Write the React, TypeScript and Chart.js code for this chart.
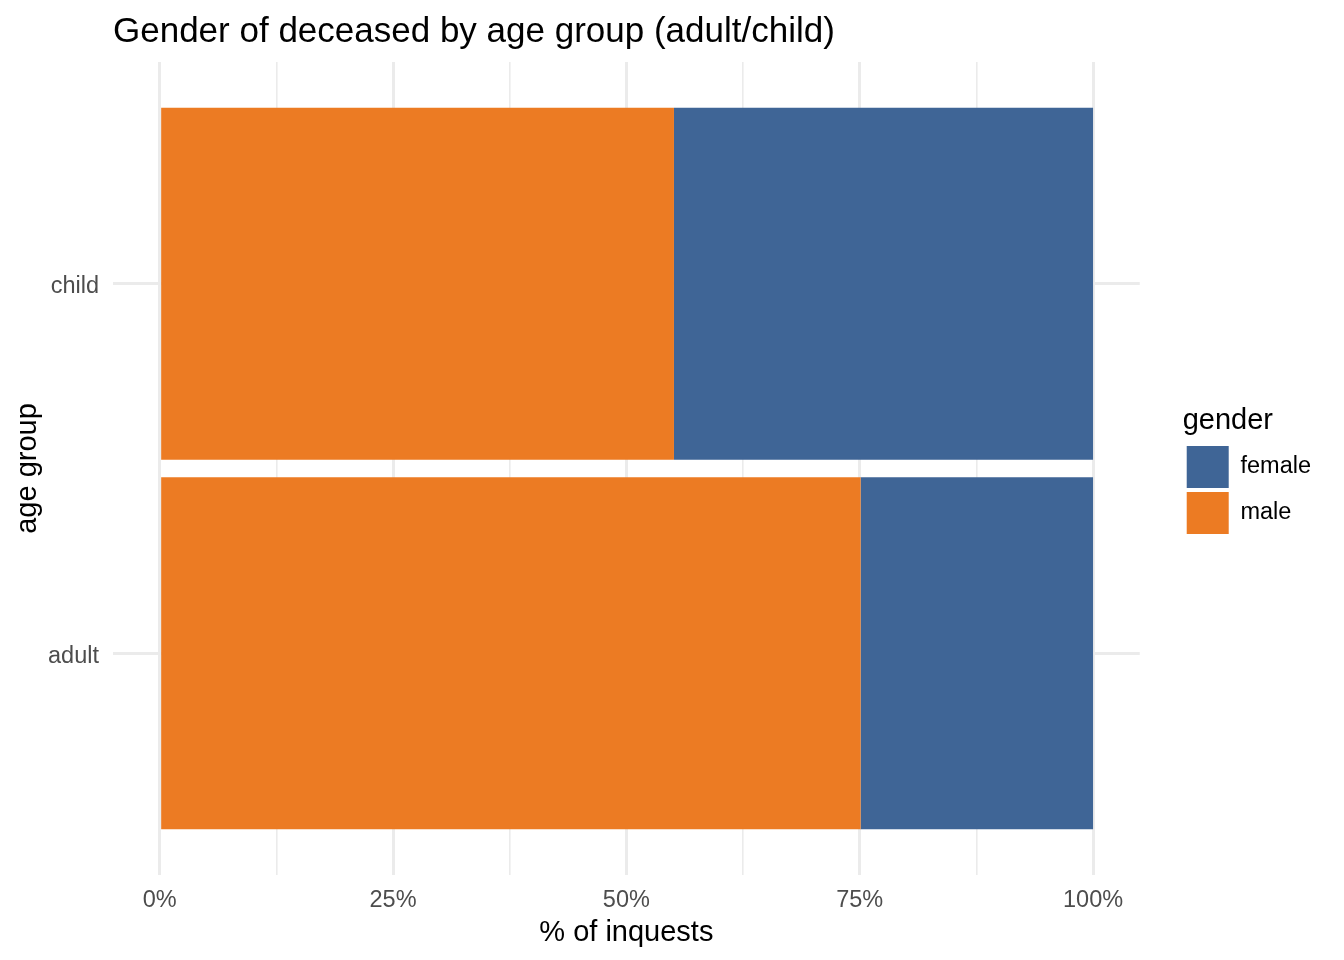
import { useEffect, useRef } from "react";
import Chart from "chart.js/auto";

const ageGroups = ["child", "adult"];
const malePct = [55.1, 75.1];
const femalePct = [44.9, 24.9];
const xTicks = [0, 12.5, 25, 37.5, 50, 62.5, 75, 87.5, 100];

const FONT = "'Liberation Sans', Arial, Helvetica, sans-serif";
const ORANGE = "#EC7B23";
const BLUE = "#3F6596";
const GRID = "#EBEBEB";
const TICK_COLOR = "#4D4D4D";

// groups sit on a linear axis (child on top) so the end padding can be 0.6 like ggplot
const yPos = (i: number) => ageGroups.length - i;

const GenderChart = () => {
  const canvasRef = useRef<HTMLCanvasElement | null>(null);

  useEffect(() => {
    if (!canvasRef.current) return;

    const chart = new Chart(canvasRef.current, {
      type: "bar",
      data: {
        datasets: [
          {
            label: "male",
            data: malePct.map((v, i) => ({ x: v, y: yPos(i) })),
            backgroundColor: ORANGE,
            borderWidth: 0,
            stack: "g",
            xAxisID: "x",
            yAxisID: "y",
            categoryPercentage: 1,
            barPercentage: 0.952,
          },
          {
            label: "female",
            data: femalePct.map((v, i) => ({ x: v, y: yPos(i) })),
            backgroundColor: BLUE,
            borderWidth: 0,
            stack: "g",
            xAxisID: "x",
            yAxisID: "y",
            categoryPercentage: 1,
            barPercentage: 0.952,
          },
        ],
      },
      options: {
        indexAxis: "y",
        animation: false,
        responsive: true,
        maintainAspectRatio: false,
        layout: { padding: { left: 0, top: 0, right: 23, bottom: 0 } },
        scales: {
          x: {
            type: "linear",
            min: -5,
            max: 105,
            stacked: true,
            afterBuildTicks: (axis: any) => {
              axis.ticks = xTicks.map((v) => ({ value: v }));
            },
            afterFit: (s: any) => {
              s.height = 85;
            },
            border: { display: false },
            grid: {
              color: GRID,
              drawTicks: false,
              lineWidth: (ctx: any) => (ctx.tick && ctx.tick.value % 25 === 0 ? 3 : 1.6),
            },
            ticks: {
              autoSkip: false,
              maxRotation: 0,
              padding: 11,
              color: TICK_COLOR,
              font: { family: FONT, size: 23.5 },
              callback: (v: any) => (Number(v) % 25 === 0 ? `${v}%` : ""),
            },
            title: {
              display: true,
              text: "% of inquests",
              color: "#000",
              font: { family: FONT, size: 29 },
              padding: { top: 0, bottom: 10 },
            },
          },
          y: {
            type: "linear",
            min: 0.4,
            max: 2.6,
            stacked: true,
            offset: false,
            afterBuildTicks: (axis: any) => {
              axis.ticks = ageGroups.map((_, i) => ({ value: yPos(i) }));
            },
            afterFit: (s: any) => {
              s.width = 113;
            },
            border: { display: false },
            grid: { color: GRID, lineWidth: 3, drawTicks: false, offset: false },
            ticks: {
              autoSkip: false,
              padding: 14,
              labelOffset: 3,
              color: TICK_COLOR,
              font: { family: FONT, size: 23.5 },
              callback: (v: any) => {
                const i = ageGroups.length - Number(v);
                return ageGroups[i] ?? "";
              },
            },
            title: {
              display: true,
              text: "age group",
              color: "#000",
              font: { family: FONT, size: 29 },
              padding: { top: 11, bottom: 0 },
            },
          },
          // empty axis that only keeps the gap between panel and legend
          gap: {
            type: "linear",
            position: "right",
            display: true,
            border: { display: false },
            grid: { display: false },
            ticks: { display: false },
            afterFit: (s: any) => {
              s.width = 43;
            },
          },
        },
        plugins: {
          title: {
            display: true,
            text: "Gender of deceased by age group (adult/child)",
            align: "start",
            fullSize: false,
            color: "#000",
            font: { family: FONT, size: 35, weight: "normal" },
            padding: { top: 11, bottom: 9 },
          },
          legend: {
            position: "right",
            align: "center",
            fullSize: false,
            reverse: true,
            title: {
              display: true,
              text: "gender",
              position: "start",
              color: "#000",
              font: { family: FONT, size: 29 },
              padding: { top: 7.5, bottom: 0.7 },
            },
            labels: {
              boxWidth: 42,
              boxHeight: 42,
              padding: 4,
              color: "#000",
              font: { family: FONT, size: 23.5 },
            },
          },
          tooltip: { enabled: false },
        },
      },
    } as any);

    return () => {
      chart.destroy();
    };
  }, []);

  return (
    <div
      style={{
        position: "absolute",
        left: 0,
        top: 0,
        width: "1344px",
        height: "960px",
        background: "#fff",
      }}
    >
      <canvas ref={canvasRef} />
    </div>
  );
};

export default function App() {
  return <GenderChart />;
}
